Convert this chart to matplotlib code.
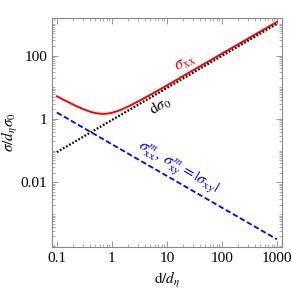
import matplotlib
matplotlib.use("Agg")
import matplotlib.pyplot as plt
from matplotlib.ticker import LogLocator, FixedLocator, NullFormatter, FixedFormatter

plt.rcParams['font.family'] = 'serif'
plt.rcParams['font.serif'] = ['Liberation Serif', 'DejaVu Serif']
plt.rcParams['mathtext.fontset'] = 'stix'

# data
d_red = [0.1, 0.13, 0.17, 0.2, 0.25, 0.3, 0.4, 0.5, 0.6, 0.7, 0.8, 1.0, 1.3, 1.6, 2.0, 3.0, 5.0, 10, 30, 100, 300, 1000]
sig_xx = [5.2, 4.1, 3.25, 2.82, 2.35, 2.05, 1.7, 1.54, 1.47, 1.45, 1.47, 1.57, 1.8, 2.08, 2.5, 3.58, 5.8, 11.4, 34.5, 115, 345, 1150]
d_black = [0.1, 1000]
d_sigma0 = [0.09, 1000]
d_blue = [0.1, 1000]
sig_m = [1.6, 1.6e-4]

xticks = [0.1, 1, 10, 100, 1000]
xticklabels = ['0.1', '1', '10', '100', '1000']
yticks = [1e-2, 1, 1e2]
yticklabels = ['0.01', '1', '100']

fig = plt.figure(figsize=(2.91, 2.91), dpi=100)
ax = fig.add_axes([0.179, 0.152, 0.79, 0.786])

ax.plot(d_red, sig_xx, color='#ff0000', lw=1.4)
ax.plot(d_black, d_sigma0, color='black', lw=1.6, linestyle=(0, (0.8, 0.8)))
ax.plot(d_blue, sig_m, color='#0000ff', lw=1.3, linestyle=(0, (3, 1.5)))

ax.set_xscale('log')
ax.set_yscale('log')
ax.set_xlim(0.082, 1240)
ax.set_ylim(9.3e-5, 1530)

ax.xaxis.set_major_locator(FixedLocator(xticks))
ax.xaxis.set_major_formatter(FixedFormatter(xticklabels))
ax.xaxis.set_minor_locator(LogLocator(base=10, subs=range(2, 10), numticks=20))
ax.xaxis.set_minor_formatter(NullFormatter())
ax.yaxis.set_major_locator(FixedLocator(yticks))
ax.yaxis.set_major_formatter(FixedFormatter(yticklabels))
ax.yaxis.set_minor_locator(LogLocator(base=10, subs=range(1, 10), numticks=20))
ax.yaxis.set_minor_formatter(NullFormatter())

ax.tick_params(which='both', direction='in', top=True, right=True, colors='#888888',
               labelcolor='black', labelsize=11)
ax.tick_params(which='major', length=4, width=0.6)
ax.tick_params(which='minor', length=2, width=0.5)
for s in ax.spines.values():
    s.set_color('#888888')
    s.set_linewidth(0.8)

ax.set_xlabel(r'$\mathrm{d}/d_\eta$', fontsize=11, labelpad=4)
ax.set_ylabel(r'$\sigma/d_\eta\sigma_0$', fontsize=11)
ax.yaxis.set_label_coords(-0.138, 0.5)

ax.text(21, 60, r'$\sigma_{\mathrm{xx}}$', color='#ff0000', fontsize=12, rotation=27,
        ha='center', va='center')
ax.text(7.6, 2.5, r'$\mathrm{d}\sigma_0$', color='black', fontsize=11, rotation=30,
        ha='center', va='center')
ax.text(15.5, 0.027, r'$\sigma^m_{\mathrm{xx}},\,\sigma^m_{\mathrm{xy}} = |\sigma_{\mathrm{xy}}|$',
        color='#0000ff', fontsize=11.5, rotation=-30, ha='center', va='center')

fig.savefig('out.png', dpi=100)
